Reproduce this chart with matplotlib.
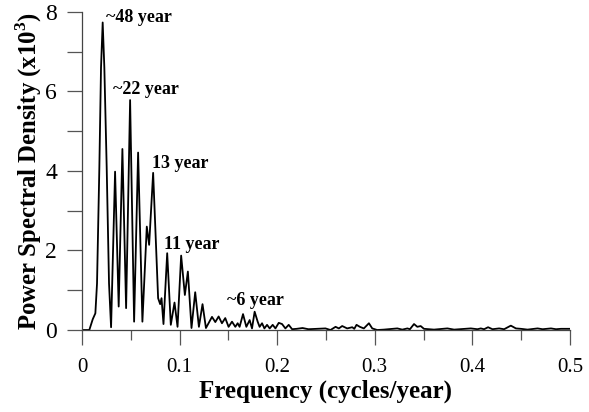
import numpy as np
import matplotlib
matplotlib.use("Agg")
import matplotlib.pyplot as plt
from matplotlib.ticker import MultipleLocator

plt.rcParams['font.family'] = ['Liberation Serif', 'DejaVu Serif']
plt.rcParams['mathtext.fontset'] = 'custom'
plt.rcParams['mathtext.rm'] = 'Liberation Serif'
plt.rcParams['mathtext.bf'] = 'Liberation Serif:bold'

# spectrum (cycles/year, x10^3)
freq = [0.0, 0.0075, 0.0110, 0.0137, 0.0154, 0.0178, 0.0195, 0.0212,
        0.0229, 0.0253, 0.0277, 0.0298,
        0.0339, 0.0376, 0.0414, 0.0452, 0.0493, 0.0534, 0.0575, 0.0619,
        0.0664, 0.0688, 0.0729, 0.0780, 0.0801, 0.0815, 0.0835,
        0.0873, 0.0910, 0.0948, 0.0979, 0.1016, 0.1054, 0.1085, 0.1122,
        0.1160, 0.1198, 0.1235, 0.1270,
        0.1332, 0.1366, 0.1400, 0.1434, 0.1468, 0.1502, 0.1537, 0.1571,
        0.1595, 0.1615, 0.1650, 0.1684, 0.1718, 0.1742, 0.1769, 0.1800,
        0.1820, 0.1845, 0.1869, 0.1896, 0.1923, 0.1954, 0.1982, 0.2016,
        0.2050, 0.2084, 0.2118, 0.2153, 0.2200, 0.2260, 0.2320,
        0.2495, 0.2546, 0.2598, 0.2632, 0.2666, 0.2717, 0.2769, 0.2790,
        0.2813, 0.2847, 0.2888, 0.2940, 0.2974, 0.3025, 0.3094, 0.3231,
        0.3282, 0.3334, 0.3360, 0.3402, 0.3436, 0.3470, 0.3504, 0.3607,
        0.3744, 0.3813, 0.3984, 0.4052, 0.4086, 0.4120, 0.4161, 0.4206,
        0.4274, 0.4325, 0.4394, 0.4446, 0.4497, 0.4565, 0.4668, 0.4720,
        0.4805, 0.4857, 0.4908, 0.4976, 0.5000]
power = [0.0, 0.0, 0.27, 0.42, 1.17, 4.1, 6.6, 7.73,
         6.6, 4.1, 1.17, 0.07,
         3.98, 0.59, 4.55, 0.55, 5.78, 0.21, 4.46, 0.21,
         2.6, 2.14, 3.95, 0.8, 0.65, 0.8, 0.15,
         1.93, 0.13, 0.69, 0.08, 1.87, 0.88, 1.47, 0.05,
         0.95, 0.08, 0.65, 0.05,
         0.33, 0.20, 0.34, 0.17, 0.30, 0.08, 0.21, 0.08,
         0.17, 0.08, 0.40, 0.08, 0.25, 0.04, 0.46, 0.21,
         0.08, 0.17, 0.04, 0.13, 0.04, 0.13, 0.04, 0.18,
         0.15, 0.04, 0.13, 0.02, 0.03, 0.05, 0.02,
         0.04, 0.0, 0.08, 0.04, 0.10, 0.04, 0.07, 0.03,
         0.13, 0.08, 0.04, 0.17, 0.04, 0.0, 0.01, 0.04,
         0.01, 0.04, 0.02, 0.15, 0.08, 0.10, 0.03, 0.01,
         0.04, 0.01, 0.04, 0.02, 0.04, 0.02, 0.07, 0.02,
         0.04, 0.02, 0.11, 0.04, 0.03, 0.01, 0.04, 0.02,
         0.04, 0.02, 0.03, 0.03, 0.03]

labels = ['~48 year', '~22 year', '13 year', '11 year', '~6 year']
label_x = [0.0250, 0.0318, 0.0716, 0.0838, 0.1485]
label_y = [7.85, 6.05, 4.18, 2.14, 0.75]

fig = plt.figure(figsize=(5.89, 4.12), dpi=100)
ax = fig.add_axes([0.1392, 0.199, 0.8285, 0.7725])

ax.plot(freq, power, color='black', lw=1.3)

for t, x, y in zip(labels, label_x, label_y):
    ax.text(x, y, t, fontsize=13, fontweight='bold', ha='left', va='center')

ax.set_xlim(0, 0.5)
ax.set_ylim(0, 8)
ax.xaxis.set_minor_locator(MultipleLocator(0.05))
ax.yaxis.set_major_locator(MultipleLocator(2))
ax.yaxis.set_minor_locator(MultipleLocator(1))
ax.set_xticks([0, 0.1, 0.2, 0.3, 0.4, 0.5])
ax.set_xticklabels(['0', '0.1', '0.2', '0.3', '0.4', '0.5'])

for s in ['top', 'right']:
    ax.spines[s].set_visible(False)
for s in ['left', 'bottom']:
    ax.spines[s].set_color('#444444')
    ax.spines[s].set_linewidth(0.9)

ax.tick_params(axis='x', which='major', direction='out', length=11,
               width=0.9, color='#555555', labelsize=15, pad=9)
ax.tick_params(axis='y', which='major', direction='out', length=11,
               width=0.9, color='#555555', labelsize=17, pad=7)
ax.tick_params(axis='x', which='minor', direction='out', length=7,
               width=0.9, color='#555555')
ax.tick_params(axis='y', which='minor', direction='out', length=11,
               width=0.9, color='#555555')

ax.set_xlabel('Frequency (cycles/year)', fontsize=18, fontweight='bold',
              labelpad=2)
ax.set_ylabel(r'Power Spectral Density (x10$^{\mathbf{3}}$)', fontsize=17.8,
              fontweight='bold', labelpad=1)

fig.savefig('out.png', dpi=100)
